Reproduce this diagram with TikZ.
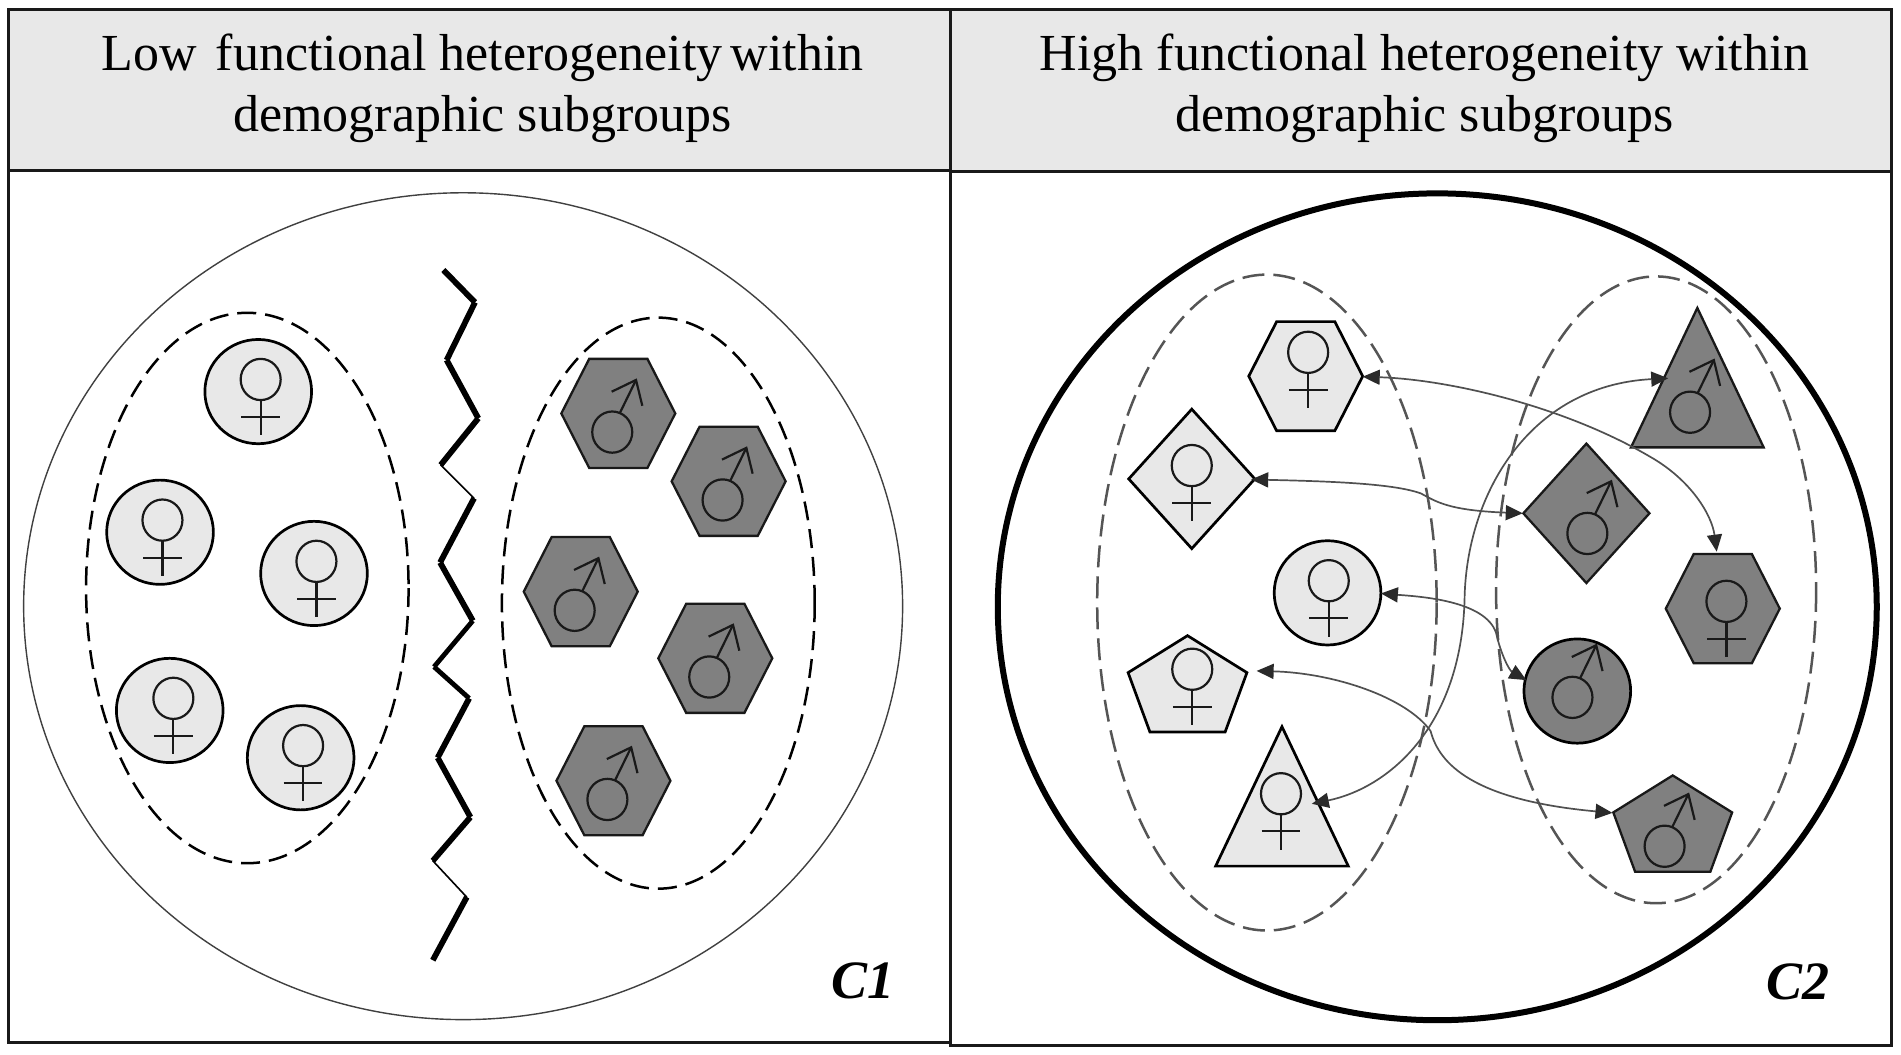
\documentclass[tikz,border=0pt]{standalone}
\usepackage{fontspec}
\setmainfont{Liberation Serif}
\usetikzlibrary{arrows.meta,calc}
\definecolor{lightf}{HTML}{E8E8E8}
\definecolor{darkf}{HTML}{808080}
\definecolor{conn}{HTML}{505050}
\definecolor{dashc}{HTML}{555555}
\definecolor{tipc}{HTML}{2A2A2A}
\tikzset{
  panel/.style={draw=black!90,line width=3pt},
  head/.style={draw=black!90,line width=3pt,fill=lightf},
  title/.style={align=center,font=\fontsize{52}{61.3}\selectfont,inner sep=0pt},
  tag/.style={font=\fontsize{54}{60}\selectfont\bfseries\itshape,inner sep=0pt},
  lightshape/.style={draw=black,line width=2.7pt,fill=lightf,line join=miter},
  darkshape/.style={draw=black!90,line width=2.3pt,fill=darkf,line join=miter},
  darkround/.style={draw=black,line width=2.7pt,fill=darkf},
  sym/.style={draw=black!90,line width=2.2pt},
  sgroup/.style={draw=black,line width=2.5pt,dash pattern=on 19pt off 9pt},
  ggroup/.style={draw=dashc,line width=2.5pt,dash pattern=on 22pt off 9pt},
  conarrow/.style={draw=conn,line width=1.7pt,{Triangle[length=17pt,width=15pt,color=tipc]}-{Triangle[length=17pt,width=15pt,color=tipc]}},
  zthick/.style={line width=5.8pt},
  zmed/.style={line width=4.8pt},
  zthin/.style={line width=1.6pt,line cap=round}
}
\newcommand{\femsign}[2]{\begin{scope}[shift={(#1,#2)}]
  \draw[sym] (0,0) ellipse [x radius=16.5,y radius=17];
  \draw[sym] (0,17) -- (0,46);
  \draw[sym] (-16,31) -- (16,31);
\end{scope}}
\newcommand{\malesign}[2]{\begin{scope}[shift={(#1,#2)}]
  \draw[sym] (0,0) ellipse [x radius=16.5,y radius=17];
  \draw[sym] (6.4,-16) -- (19.6,-43);
  \draw[sym] (-0.5,-33.3) -- (19.6,-43) -- (24.8,-21.7);
\end{scope}}
\newcommand{\hexa}[4]{\draw[#4] (#2-47,#3) -- (#2-24,#3-45) -- (#2+24,#3-45) -- (#2+47,#3) -- (#2+24,#3+45) -- (#2-24,#3+45) -- cycle; \coordinate (#1) at (#2,#3);}
\newcommand{\round}[4]{\draw[#4] (#2,#3) ellipse [x radius=44,y radius=43]; \coordinate (#1) at (#2,#3);}
\newcommand{\diam}[4]{\draw[#4] (#2-52,#3) -- (#2,#3-57.5) -- (#2+52,#3) -- (#2,#3+57.5) -- cycle; \coordinate (#1) at (#2,#3);}
\newcommand{\penta}[4]{\draw[#4] (#2,#3-40) -- (#2+49,#3-9.5) -- (#2+31,#3+39.5) -- (#2-31,#3+39.5) -- (#2-49,#3-9.5) -- cycle; \coordinate (#1) at (#2,#3);}
\newcommand{\tri}[4]{\draw[#4] (#2,#3-57.5) -- (#2+54.7,#3+57.5) -- (#2-54.7,#3+57.5) -- cycle; \coordinate (#1) at (#2,#3);}
\begin{document}
\begin{tikzpicture}[x=1.21237pt,y=-1.21237pt]
\useasboundingbox (0,0) rectangle (1568,869.4);
\fill[white] (0,0) rectangle (1568,869.4);
% panels
\draw[head] (7,7.5) rectangle (784,141);
\draw[head] (784,7.5) rectangle (1560.3,141.5);
\draw[panel] (7,141) rectangle (784,860);
\draw[panel] (784,141.5) rectangle (1560.3,862);
\node[title] (t1) at (398,73) {Low\hspace{6pt} functional heterogeneity\hspace{-5pt} within\\demographic subgroups};
\node[title] (t2) at (1175,73) {High functional heterogeneity within\\demographic subgroups};
\node[tag] (c1) at (712,809) {C1};
\node[tag] (c2) at (1483,809.5) {C2};
% left panel
\draw[line width=1.4pt,draw=black!75] (382,500) ellipse [x radius=362.5,y radius=341];
\draw[sgroup] (204,485) ellipse [x radius=133,y radius=227];
\draw[sgroup] (543,497.5) ellipse [x radius=129,y radius=235.5];
\round{a1}{213}{323}{lightshape}\femsign{215}{313}
\round{a2}{132}{439}{lightshape}\femsign{134}{429}
\round{a3}{259}{473}{lightshape}\femsign{261}{463}
\round{a4}{140}{586}{lightshape}\femsign{143}{576}
\round{a5}{248}{625}{lightshape}\femsign{250}{615}
\hexa{b1}{510}{341}{darkshape}\malesign{505}{356.4}
\hexa{b2}{601}{397}{darkshape}\malesign{596}{412.4}
\hexa{b3}{479}{488}{darkshape}\malesign{474}{503.4}
\hexa{b4}{590}{543}{darkshape}\malesign{585}{558.4}
\hexa{b5}{506}{644}{darkshape}\malesign{501}{659.4}
% zigzag
\coordinate (z1) at (365.7,222.7); \coordinate (z2) at (391.8,249.4); \coordinate (z3) at (368.4,297);
\coordinate (z4) at (394.5,345); \coordinate (z5) at (363.5,383.5); \coordinate (z6) at (391,411);
\coordinate (z7) at (363,464); \coordinate (z8) at (390,512); \coordinate (z9) at (358,550);
\coordinate (z10) at (387,576); \coordinate (z11) at (361,625); \coordinate (z12) at (388,674);
\coordinate (z13) at (357,710); \coordinate (z14) at (385,740); \coordinate (z15) at (357,792);
\draw[zthick] (z1) -- (z2);
\draw[zthick] (z2) -- (z3);
\draw[zthick] (z3) -- (z4);
\draw[zthick] (z4) -- (z5);
\draw[zthin] (z5) -- (z6);
\draw[zthick] (z6) -- (z7);
\draw[zthick] (z7) -- (z8);
\draw[zmed] (z8) -- (z9);
\draw[zmed] (z9) -- (z10);
\draw[zthick] (z10) -- (z11);
\draw[zthick] (z11) -- (z12);
\draw[zthick] (z12) -- (z13);
\draw[zthin] (z13) -- (z14);
\draw[zthick] (z14) -- (z15);
% right panel
\draw[line width=6pt] (1185.5,500.5) ellipse [x radius=362.5,y radius=341];
\draw[ggroup] (1045,497) ellipse [x radius=140,y radius=270.5];
\draw[ggroup] (1366,486.5) ellipse [x radius=132,y radius=258.5];
\hexa{fh}{1077}{310.3}{lightshape}\femsign{1079}{290.6}
\diam{fd}{983}{395}{lightshape}\femsign{983}{384}
\round{fc}{1095}{489}{lightshape}\femsign{1096}{479}
\penta{fp}{979.5}{564.3}{lightshape}\femsign{983.4}{552}
\tri{ft}{1057.4}{656.9}{lightshape}\femsign{1056.6}{654.7}
\tri{mt}{1400}{311.5}{darkshape}\malesign{1394}{340}
\diam{md}{1308.5}{423.4}{darkshape}\malesign{1309.3}{440}
\hexa{mh}{1421}{502}{darkshape}\femsign{1424}{496}
\round{mc}{1301}{570}{darkround}\malesign{1297}{575.2}
\penta{mp}{1379.7}{679.6}{darkshape}\malesign{1373}{698}
% connector ends
\coordinate (e1) at (1124,310.7); \coordinate (e2) at (1416,455);
\coordinate (e3) at (1032,395.5); \coordinate (e4) at (1256,423.4);
\coordinate (e5) at (1139,489.5); \coordinate (e6) at (1259,561);
\coordinate (e7) at (1036.5,553.4); \coordinate (e8) at (1330,670.5);
\coordinate (e9) at (1082,663); \coordinate (e10) at (1376,312);
\draw[conarrow] (e1) .. controls (1195,313) and (1290,335) .. (1361,376.7) .. controls (1395,396) and (1412,425) .. (e2);
\draw[conarrow] (e3) .. controls (1100,397) and (1150,399) .. (1172,407) .. controls (1185,414) and (1195,421) .. (e4);
\draw[conarrow] (e5) .. controls (1170,492) and (1225,495) .. (1234,522) .. controls (1238,540) and (1245,553) .. (e6);
\draw[conarrow] (e7) .. controls (1100,555) and (1160,575) .. (1180,603) .. controls (1187,630) and (1215,660) .. (e8);
\draw[conarrow] (e9) .. controls (1145,650) and (1205,600) .. (1208,495) .. controls (1209,410) and (1260,318) .. (e10);
\end{tikzpicture}
\end{document}
